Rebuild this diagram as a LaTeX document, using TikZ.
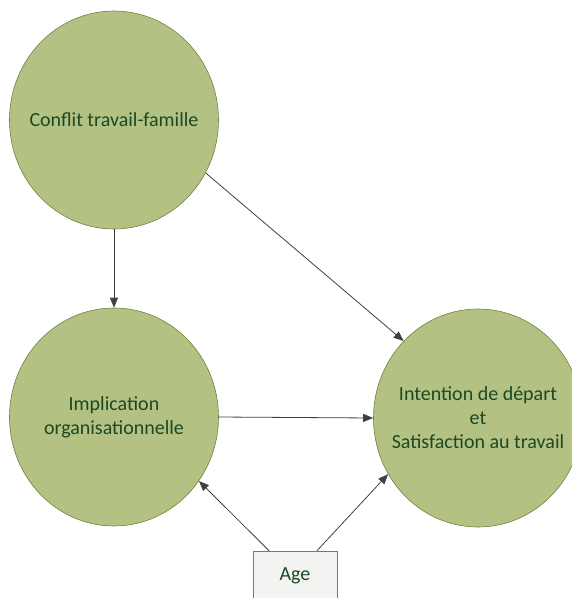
\documentclass[tikz,border=0pt]{standalone}
\usepackage{fontspec}
\setmainfont{Carlito}
\usetikzlibrary{arrows.meta, shapes.geometric}
\definecolor{olivefill}{RGB}{179,193,131}
\definecolor{oliveline}{RGB}{112,130,62}
\definecolor{darktext}{RGB}{28,72,38}
\definecolor{arrowgray}{RGB}{64,64,64}
\definecolor{boxfill}{RGB}{243,243,241}

\begin{document}
\begin{tikzpicture}[x=1pt, y=-1pt,
  every node/.style={font=\fontsize{20}{24}\selectfont, text=darktext, align=center},
  bubble/.style={ellipse, draw=oliveline, line width=0.6pt, fill=olivefill, minimum width=209pt, minimum height=218pt, inner xsep=-50pt, inner ysep=0pt},
  agebox/.style={rectangle, draw=oliveline!80!gray, line width=0.6pt, fill=boxfill, minimum width=84pt, minimum height=50pt},
  link/.style={draw=arrowgray, line width=0.8pt, -{Triangle[length=10pt, width=8pt]}}]

\useasboundingbox (0,0) rectangle (572,598);
\clip (0,0) rectangle (572,598);

% Circles
\node[bubble] (conflit) at (114,120) {Conflit travail-famille};
\node[bubble] (implic) at (114,417) {Implication\\organisationnelle};
\node[bubble] (intent) at (478,418) {Intention de départ\\et\\Satisfaction au travail};

% Age box
\node[agebox] (age) at (295,576) {Age};
\coordinate (ageL) at ([xshift=-26pt]age.north);
\coordinate (ageR) at ([xshift=22pt]age.north);

% Arrows
\draw[link] (conflit.south) -- (implic.north);
\draw[link] (conflit.-30) -- (intent.134);
\draw[link] (implic.east) -- (intent.west);
\draw[link] (ageL) -- (implic.-37);
\draw[link] (ageR) -- (intent.-148);

\end{tikzpicture}
\end{document}
